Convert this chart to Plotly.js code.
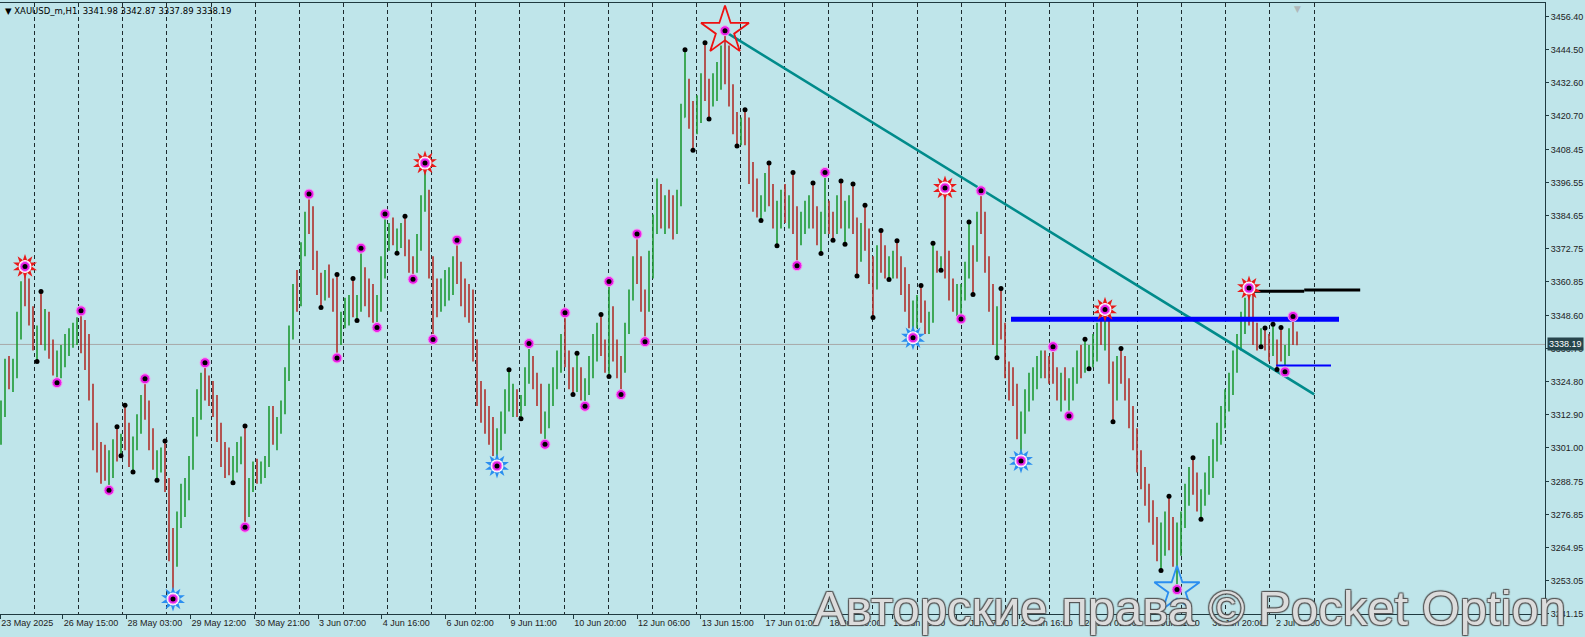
<!DOCTYPE html>
<html><head><meta charset="utf-8">
<script src="https://cdn.plot.ly/plotly-3.0.1.min.js"></script>
<style>html,body{margin:0;padding:0;background:#bfe5ea;}#chart{width:1585px;height:637px;}</style>
</head><body><div id="chart"></div>
<script>
// ---------------- data (XAUUSD_m, bars) ----------------
const symbolName = 'XAUUSD_m,H1';
const firstOpen = 3305;
const barHigh = [
3318,3333,3334,3333,3350,3361,3366.3,3362,3352,3345,
3357.3,3351,3350,3340,3336,3338,3342,3344,3346,3348,
3350.3,3347,3342,3324,3310,3303,3302,3300,3304,3308.5,
3306,3316.3,3310,3305,3313,3320,3325.8,3318,3308,3300,
3301,3303.4,3290,3272,3278,3288,3290,3298,3312,3322,
3328,3331.6,3327,3325,3320,3310,3303,3301,3298,3303,
3305,3308.8,3290,3296,3297,3296,3298,3316,3316,3312,
3318,3330,3345,3360,3365,3375,3386,3392.4,3388,3372,
3364,3365,3367,3362,3363.4,3350,3355,3356,3362,3356,
3372.9,3366,3362,3360,3356,3370,3385.2,3382,3384,3380,
3382,3384.4,3376,3370,3378,3392,3403.6,3394,3370,3362,
3362,3365,3366,3370,3375.8,3368,3362,3360,3358,3340,
3325,3322,3316,3312,3308,3314,3322,3329.1,3324,3322,
3320,3330,3338.5,3334,3328,3324,3314,3324,3330,3336,
3342,3349.6,3336,3330,3335,3330,3326,3334,3342,3346,
3349,3340,3360.9,3352,3340,3334,3346,3358,3370,3378,
3370,3358,3372,3385,3398,3396,3392,3394,3392,3394,
3425,3444.4,3434,3426,3428,3436,3447,3434,3436,3440,
3446,3451.3,3446,3432,3422,3420,3422.8,3420,3404,3398,
3392,3400,3403.6,3396,3390,3394,3396,3392,3400.2,3388,
3386,3390,3392,3396.4,3388,3386,3400.2,3390,3386,3392,
3397.1,3390,3392,3396,3384,3382,3388.4,3380,3370,3374,
3379.3,3374,3370,3372,3375.6,3370,3366,3360,3354,3356,
3359.4,3354,3350,3374.7,3372,3370,3394.6,3372,3362,3360,
3360,3368,3382.3,3374,3386,3393.6,3386,3370,3360,3352,
3358.4,3346,3332,3330,3324,3314,3322,3328,3330,3334,
3336,3336,3334,3337.4,3330,3328,3330,3326,3330,3336,
3338,3340.1,3338,3342,3346,3348,3350.8,3348,3332,3334,
3336.7,3334,3326,3316,3308,3300,3294,3288,3282,3276,
3274,3278,3283.5,3276,3274,3278,3288,3294,3297.3,3292,
3286,3292,3298,3304,3310,3316,3322,3328,3336,3342,
3350,3355,3358.5,3356,3346,3344,3344.1,3342,3345.5,3340,
3344.3,3338,3344,3348.3,3342.87];
const barLow = [
3302,3312,3322,3321,3326,3340,3352,3345,3336,3332,
3338,3336,3333,3327,3324.4,3326,3330,3334,3337,3338,
3335,3329,3318,3300,3292,3288,3289,3285.6,3290,3296,
3298.1,3300,3294,3292.2,3300,3306,3311,3300,3293,3289.2,
3292,3285,3260,3246.4,3258,3272,3276,3282,3293,3305,
3311,3318,3316,3312,3303,3294,3290,3291,3288.3,3292,
3295,3272.3,3276,3285,3288,3288,3290,3294,3302,3300,
3306,3313,3325,3340,3350,3352,3370,3378,3365,3356,
3351.5,3354,3355,3350,3333.3,3338,3344,3345,3348,3346.8,
3350,3352,3348,3346,3344.3,3350,3362,3372,3374,3371.1,
3373,3370,3364,3361.7,3364,3372,3386,3362,3340,3348,
3350,3352,3354,3356,3360,3352,3348,3346,3332,3316,
3310,3306,3302,3298,3294.4,3300,3306,3314,3312,3312,
3311.4,3316,3324,3322,3316,3306,3302.2,3308,3316,3322,
3328,3330,3322,3320.1,3321,3318,3315.9,3320,3326,3332,
3334,3328,3326.6,3332,3326,3320.1,3328,3342,3354,3360,
3350,3339.2,3350,3362,3378,3380,3378,3380,3376,3378,
3388,3420,3416,3408.2,3414,3418,3426,3419.5,3424,3426,
3430,3432,3424,3414,3409.7,3410,3410,3396,3386,3384,
3382.9,3386,3388,3380,3373.8,3380,3382,3380,3378,3366.6,
3374,3378,3380,3380,3374,3371,3378,3378,3375.8,3378,
3380,3374.3,3380,3378,3362.9,3368,3372,3360,3347.9,3358,
3364,3362,3361.6,3362,3362,3356,3350,3344,3340.6,3344,
3346,3342,3342,3346,3364,3364.9,3362,3354,3350,3348,
3347.4,3354,3362,3356.2,3368,3378,3364,3350,3338,3333.4,
3340,3326,3318,3316,3304,3296.2,3306,3314,3318,3322,
3326,3326,3324,3324,3318,3314,3318,3312.4,3318,3324,
3326,3328,3329.4,3330,3332,3338,3336,3324,3310.3,3318,
3324,3318,3308,3300,3292,3286,3280,3274,3266,3260,
3256.7,3262,3264,3258,3249.8,3262,3272,3280,3284,3278,
3275.2,3280,3284,3290,3296,3302,3308,3314,3320,3328,
3336,3342,3345,3338,3336,3337.4,3336,3332,3334,3329.2,
3332,3328.3,3334,3338,3337.89];
const barClose = [
3315,3328,3325,3330,3347,3357,3355,3348,3340,3343,
3342,3347,3336,3331,3333,3335,3339,3341,3344,3346,
3338,3333,3321,3305,3297,3294,3292,3296,3301,3300,
3303,3302,3296,3303,3310,3316,3314,3303,3296,3297,
3299,3288,3266,3262,3274,3280,3286,3295,3308,3318,
3325,3322,3320,3315,3306,3298,3296,3293,3295,3300,
3303,3280,3288,3292,3291,3294,3296,3312,3305,3309,
3315,3327,3342,3356,3353,3372,3384,3382,3368,3360,
3356,3362,3358,3355,3340,3347,3351,3352,3350,3354,
3360,3356,3354,3350,3354,3367,3377,3379,3376,3378,
3380,3373,3367,3366,3375,3389,3392,3366,3358,3356,
3358,3360,3362,3368,3363,3356,3352,3350,3336,3320,
3318,3310,3306,3303,3304,3310,3318,3318,3318,3316,
3318,3328,3330,3325,3320,3310,3312,3320,3326,3333,
3336,3334,3326,3324,3328,3322,3324,3330,3338,3340,
3336,3332,3350,3336,3330,3330,3344,3356,3366,3364,
3354,3352,3368,3382,3390,3384,3388,3386,3384,3390,
3420,3430,3420,3418,3424,3432,3430,3428,3432,3436,
3440,3438,3428,3418,3416,3418,3412,3400,3392,3388,
3390,3398,3392,3384,3386,3390,3386,3388,3384,3380,
3382,3386,3388,3384,3378,3384,3386,3382,3380,3388,
3382,3386,3390,3380,3372,3378,3376,3364,3362,3370,
3368,3366,3368,3370,3366,3360,3356,3348,3350,3352,
3350,3346,3348,3370,3368,3369,3364,3358,3354,3356,
3358,3364,3372,3370,3384,3382,3368,3354,3342,3350,
3344,3330,3322,3320,3308,3310,3318,3324,3326,3330,
3332,3330,3328,3326,3322,3326,3322,3324,3328,3334,
3330,3334,3336,3338,3344,3340,3344,3328,3326,3330,
3328,3322,3312,3304,3296,3290,3284,3278,3270,3266,
3270,3274,3268,3262,3270,3276,3284,3290,3288,3282,
3284,3290,3296,3302,3308,3314,3320,3326,3334,3340,
3348,3352,3350,3342,3340,3341,3340,3336,3338,3336,
3334,3336,3342,3341.98,3338.19];

// swing-point markers (bar numbers)
const magentaHighBars = [20,36,51,77,90,96,114,132,141,152,159,206,245,263,323];
const magentaLowBars  = [14,27,61,84,94,103,108,136,146,155,161,199,240,267,321];
const sunHighBars = [6,106,236,276,312];
const sunLowBars  = [43,124,228,255];
const starHighBars = [181];
const starLowBars  = [294];
const dotHighBars = [10,29,31,41,61,84,88,101,127,144,150,171,176,186,192,198,203,210,213,216,220,224,230,233,242,250,271,280,292,298,316,318,320];
const dotLowBars  = [9,30,33,39,58,80,89,99,130,143,152,173,177,184,190,194,205,208,211,214,218,222,235,243,249,272,278,290,300,315,319];

// drawn objects
const trendBars = [180.6, 328.3];
const trendPrices = [3451.3, 3320.2];
const blueLevelBars = [252.5, 334.5];
const blueLevelPrice = 3347.3;
const blackLevelBars1 = [312.3, 325.8];
const blackLevelPrice1 = 3357.4;
const blackLevelBars2 = [325.8, 339.8];
const blackLevelPrice2 = 3357.8;
const thinLevelBars = [318.8, 332.5];
const thinLevelPrice = 3330.6;

// axes
const xTickBars = [-0.2,15.45,31.4,47.35,63.3,79.25,95.2,111.15,127.1,143.05,159,174.95,190.9,206.85,222.8,238.75,254.7,270.65,286.6,302.55,318.5];
const xTickLabels = ['23 May 2025','26 May 15:00','28 May 03:00','29 May 12:00','30 May 21:00','3 Jun 07:00','4 Jun 16:00','6 Jun 02:00','9 Jun 11:00','10 Jun 20:00','12 Jun 06:00','13 Jun 15:00','17 Jun 01:00','18 Jun 10:00','19 Jun 19:00','23 Jun 07:00','24 Jun 16:00','26 Jun 02:00','27 Jun 11:00','30 Jun 20:00','2 Jul 06:00'];
const yTickValues = [3456.40,3444.50,3432.60,3420.70,3408.45,3396.55,3384.65,3372.75,3360.85,3348.60,3336.70,3324.80,3312.90,3301.00,3288.75,3276.85,3264.95,3253.05,3241.15];
const watermark = 'Авторские права © Pocket Option';

// ---------------- drawing ----------------
const N = barClose.length;
const barIndex = barClose.map((_, i) => i);
const barOpen = barClose.map((c, i) => i === 0 ? firstOpen : barClose[i - 1]);
const last = N - 1;

const BG = '#bfe5ea';
const AX = '#1f3a40';
const FONT = 'DejaVu Sans, Verdana, sans-serif';
const TFONT = 'Liberation Sans, Arial, sans-serif';

const gridBars = [];
for (let g = 8.4; g < 330; g += 11.03) gridBars.push(g);

function mk(bars, src, marker) {
  return {type: 'scatter', mode: 'markers', x: bars, y: bars.map(i => src[i]),
    marker: marker, hoverinfo: 'skip', showlegend: false, cliponaxis: false};
}
function seg(xs, ys, color, width) {
  return {type: 'scatter', mode: 'lines', x: xs, y: ys, line: {color: color, width: width},
    hoverinfo: 'skip', showlegend: false};
}

const traces = [];
traces.push({type: 'ohlc', x: barIndex, open: barOpen, high: barHigh, low: barLow, close: barClose,
  increasing: {line: {color: '#1f9a34', width: 1.6}},
  decreasing: {line: {color: '#b0302c', width: 1.6}},
  tickwidth: 0.15, hoverinfo: 'skip', showlegend: false});

traces.push(seg(trendBars, trendPrices, '#008b8b', 2.6));
traces.push(seg(blueLevelBars, [blueLevelPrice, blueLevelPrice], '#0000ff', 5));
traces.push(seg(blackLevelBars1, [blackLevelPrice1, blackLevelPrice1], '#000000', 3));
traces.push(seg(blackLevelBars2, [blackLevelPrice2, blackLevelPrice2], '#000000', 3));
traces.push(seg(thinLevelBars, [thinLevelPrice, thinLevelPrice], '#0000ff', 2));

// big stars
traces.push(mk(starHighBars, barHigh, {symbol: 'star-open', size: 36, color: '#ee1111', line: {color: '#ee1111', width: 1.8}}));
traces.push(mk(starLowBars, barLow, {symbol: 'star-open', size: 34, color: '#2a8ef0', line: {color: '#2a8ef0', width: 1.8}}));

// suns
function sun(bars, src, col) {
  traces.push(mk(bars, src, {symbol: 'star', size: 18, angle: 0, color: col, line: {width: 0}}));
  traces.push(mk(bars, src, {symbol: 'star', size: 18, angle: 36, color: col, line: {width: 0}}));
  traces.push(mk(bars, src, {symbol: 'circle', size: 13, color: '#ffffff', line: {width: 0}}));
}
sun(sunHighBars, barHigh, '#e81a1a');
sun(sunLowBars, barLow, '#2a8ef0');

// magenta fractal circles (also on suns and stars)
const allHigh = magentaHighBars.concat(sunHighBars, starHighBars);
const allLow = magentaLowBars.concat(sunLowBars, starLowBars);
traces.push(mk(allHigh, barHigh, {symbol: 'circle', size: 10, color: '#e61ee6', line: {color: '#f3a6f3', width: 1}}));
traces.push(mk(allLow, barLow, {symbol: 'circle', size: 10, color: '#e61ee6', line: {color: '#f3a6f3', width: 1}}));

// black dots
traces.push(mk(allHigh.concat(dotHighBars), barHigh, {symbol: 'circle', size: 5, color: '#000000', line: {width: 0}}));
traces.push(mk(allLow.concat(dotLowBars), barLow, {symbol: 'circle', size: 5, color: '#000000', line: {width: 0}}));

const header = '▼ ' + symbolName + '  ' + barOpen[last].toFixed(2) + ' ' + barHigh[last].toFixed(2) + ' ' +
  barLow[last].toFixed(2) + ' ' + barClose[last].toFixed(2);

const layout = {
  width: 1585, height: 637,
  margin: {l: 0, r: 40, t: 3, b: 23},
  paper_bgcolor: BG, plot_bgcolor: BG,
  showlegend: false, hovermode: false,
  font: {family: TFONT, size: 9, color: '#222'},
  xaxis: {
    range: [-0.25, 386], rangeslider: {visible: false},
    tickmode: 'array', tickvals: xTickBars, ticktext: xTickLabels,
    tickangle: 0, automargin: false,
    ticks: 'outside', ticklen: 4, tickcolor: AX, tickwidth: 1,
    ticklabelposition: 'outside right',
    tickfont: {family: TFONT, size: 9, color: '#222'},
    showgrid: false, zeroline: false,
    showline: true, mirror: true, linecolor: AX, linewidth: 1,
    minor: {tickmode: 'array', tickvals: gridBars, showgrid: true, griddash: '4px,3px',
            gridcolor: '#1d2a2e', gridwidth: 1, ticks: ''},
    fixedrange: true
  },
  yaxis: {
    side: 'right', range: [3241.0, 3461.3], automargin: false,
    tickmode: 'array', tickvals: yTickValues, ticktext: yTickValues.map(v => v.toFixed(2)),
    ticks: 'outside', ticklen: 3, tickcolor: AX, tickwidth: 1,
    tickfont: {family: TFONT, size: 9, color: '#222'},
    showgrid: false, zeroline: false,
    showline: true, linecolor: AX, linewidth: 1,
    fixedrange: true
  },
  shapes: [
    {type: 'line', xref: 'paper', x0: 0, x1: 1, yref: 'y', y0: barClose[last], y1: barClose[last],
     line: {color: '#a8a8a8', width: 1}, layer: 'below'}
  ],
  annotations: [
    {xref: 'paper', yref: 'paper', x: 0, y: 1, xanchor: 'left', yanchor: 'top', xshift: 3, yshift: -1,
     text: header, showarrow: false, font: {family: FONT, size: 8.5, color: '#000'}},
    {xref: 'paper', yref: 'y', x: 1, y: barClose[last], xanchor: 'left', yanchor: 'middle', xshift: 2,
     text: barClose[last].toFixed(2), showarrow: false, bgcolor: '#27454c', borderpad: 1,
     font: {family: TFONT, size: 9, color: '#ffffff'}},
    {xref: 'x', yref: 'paper', x: last, y: 1, xanchor: 'center', yanchor: 'top', yshift: 1,
     text: '▼', showarrow: false, font: {family: FONT, size: 9, color: '#b0b8ba'}},
    {xref: 'paper', yref: 'paper', x: 0.77, y: 0.01, xanchor: 'center', yanchor: 'middle',
     text: watermark, showarrow: false,
     font: {family: TFONT, size: 49, color: 'rgba(228,228,228,0.95)',
            shadow: '1px 1px 1px #555, -1px -1px 1px #555, 1px -1px 1px #555, -1px 1px 1px #555'}}
  ]
};

Plotly.newPlot('chart', traces, layout, {staticPlot: true, displayModeBar: false});
</script>
</body></html>
